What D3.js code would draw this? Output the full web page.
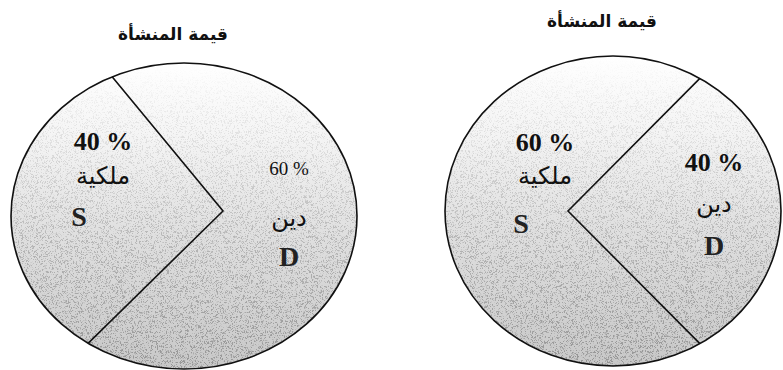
<!DOCTYPE html>
<html><head><meta charset="utf-8">
<script src="https://cdn.jsdelivr.net/npm/d3@7"></script>
<style>html,body{margin:0;padding:0;background:#fff;}svg{display:block;}</style>
</head><body>
<svg id="c" width="783" height="370"></svg>
<script>
// ---- data ----
const chartTitles = ["قيمة المنشأة", "قيمة المنشأة"];
const categoryNames = ["ملكية", "دين"];      // equity, debt
const categoryCodes = ["S", "D"];
const equityShare = [40, 60];                 // % per chart (left, right)
const debtShare   = [60, 40];

// ---- layout (positions / sizes / styles) ----
const layout = [
  { cx: 184, cy: 216, rx: 173, ry: 153, vy: 211, off: 39, tilt: 3, titleX: 173, titleY: 40,
    labels: [ {x: 103, pctY: 150, nameY: 184, codeX: 79, codeY: 226, bold: true},
              {x: 289, pctY: 175, nameY: 226, codeX: 289, codeY: 266, bold: false} ] },
  { cx: 613, cy: 211, rx: 168, ry: 155, vy: 211, off: 45, tilt: 0, titleX: 602, titleY: 27,
    labels: [ {x: 545, pctY: 151, nameY: 184, codeX: 521, codeY: 233, bold: true},
              {x: 714, pctY: 171, nameY: 212, codeX: 714, codeY: 255, bold: true} ] }
];

const svg = d3.select("#c");
const defs = svg.append("defs");
const grad = defs.append("linearGradient").attr("id","g").attr("x1",0).attr("y1",0).attr("x2",0).attr("y2",1);
[[0,"#ffffff"],[0.25,"#f4f4f4"],[0.55,"#e0e0e0"],[1,"#c8c8c8"]].forEach(s=>
  grad.append("stop").attr("offset",s[0]).attr("stop-color",s[1]));
const mg = defs.append("linearGradient").attr("id","mg").attr("x1",0).attr("y1",0).attr("x2",0).attr("y2",1);
[[0,"#000"],[0.2,"#333"],[0.6,"#888"],[1,"#bbb"]].forEach(s=>
  mg.append("stop").attr("offset",s[0]).attr("stop-color",s[1]));
const f = defs.append("filter").attr("id","noise").attr("x",0).attr("y",0).attr("width","100%").attr("height","100%");
f.append("feTurbulence").attr("type","fractalNoise").attr("baseFrequency",1.8).attr("numOctaves",1).attr("seed",7);
f.append("feColorMatrix").attr("type","matrix")
  .attr("values","0 0 0 0 0  0 0 0 0 0  0 0 0 0 0  0 0 0 9 -4.8");

const pie = d3.pie().sort(null);

function rayHit(L, ox, ang) {
  const dx = Math.cos(ang), dy = Math.sin(ang);
  const ey = L.vy - L.cy;
  const a = dx*dx/(L.rx*L.rx) + dy*dy/(L.ry*L.ry);
  const b = 2*ox*dx/(L.rx*L.rx) + 2*ey*dy/(L.ry*L.ry);
  const c = ox*ox/(L.rx*L.rx) + ey*ey/(L.ry*L.ry) - 1;
  const t = (-b + Math.sqrt(b*b - 4*a*c)) / (2*a);
  return [L.cx + ox + t*dx, L.vy + t*dy];
}
function wedge(L, ox, dir, half) {
  const p1 = rayHit(L, ox, dir - half), p2 = rayHit(L, ox, dir + half);
  const par = p => Math.atan2((p[1]-L.cy)/L.ry, (p[0]-L.cx)/L.rx);
  let t1 = par(p1), t2 = par(p2);
  while (t2 < t1) t2 += 2*Math.PI;
  const pts = [[L.cx+ox, L.vy], p1];
  const n = 120;
  for (let i=1;i<n;i++){ const t = t1 + (t2-t1)*i/n; pts.push([L.cx+L.rx*Math.cos(t), L.cy+L.ry*Math.sin(t)]); }
  pts.push(p2);
  return {pts, p1, p2};
}

layout.forEach((L, k) => {
  const values = [equityShare[k], debtShare[k]];
  const arcs = pie(values);
  const frac = arcs.map(a => (a.endAngle - a.startAngle)/(2*Math.PI));
  const wi = frac[0] <= frac[1] ? 0 : 1;
  const tiltR = L.tilt*Math.PI/180;
  const dir = wi === 0 ? Math.PI + tiltR : -tiltR;
  const ox = wi === 0 ? L.off : -L.off;
  const total = Math.PI*L.rx*L.ry;
  let lo = 0.1, hi = 1.5;
  for (let i=0;i<50;i++){
    const m=(lo+hi)/2;
    const A = Math.abs(d3.polygonArea(wedge(L, ox, dir, m).pts));
    if (A/total < frac[wi]) lo = m; else hi = m;
  }
  const W = wedge(L, ox, dir, (lo+hi)/2);
  const g = svg.append("g");
  const cid = "clip"+k, mid = "mask"+k;
  defs.append("clipPath").attr("id",cid).append("ellipse")
    .attr("cx",L.cx).attr("cy",L.cy).attr("rx",L.rx).attr("ry",L.ry);
  defs.append("mask").attr("id",mid).attr("maskUnits","userSpaceOnUse")
    .attr("x",L.cx-L.rx).attr("y",L.cy-L.ry).attr("width",2*L.rx).attr("height",2*L.ry)
    .append("rect").attr("x",L.cx-L.rx).attr("y",L.cy-L.ry).attr("width",2*L.rx).attr("height",2*L.ry)
    .attr("fill","url(#mg)");
  g.append("ellipse").attr("cx",L.cx).attr("cy",L.cy).attr("rx",L.rx).attr("ry",L.ry)
    .attr("fill","url(#g)");
  g.append("g").attr("clip-path",`url(#${cid})`).attr("mask",`url(#${mid})`)
    .append("rect").attr("x",L.cx-L.rx).attr("y",L.cy-L.ry).attr("width",2*L.rx).attr("height",2*L.ry)
    .attr("filter","url(#noise)").attr("opacity",0.35);
  g.append("ellipse").attr("cx",L.cx).attr("cy",L.cy).attr("rx",L.rx).attr("ry",L.ry)
    .attr("fill","none").attr("stroke","#111").attr("stroke-width",1.6);
  g.append("path").attr("d", d3.line()([W.p1, [L.cx+ox, L.vy], W.p2]))
    .attr("fill","none").attr("stroke","#111").attr("stroke-width",1.6);

  g.append("text").attr("x",L.titleX).attr("y",L.titleY).attr("text-anchor","middle")
    .attr("font-family","DejaVu Sans").attr("font-weight","bold").attr("font-size",17)
    .attr("fill","#111").text(chartTitles[k]);

  values.forEach((v, i) => {
    const lb = L.labels[i];
    g.append("text").attr("x",lb.x).attr("y",lb.pctY).attr("text-anchor","middle")
      .attr("font-family","Liberation Serif").attr("font-weight", lb.bold ? "bold" : "normal")
      .attr("font-size", lb.bold ? 26 : 19).attr("fill","#111").text(v + " %");
    g.append("text").attr("x",lb.x).attr("y",lb.nameY).attr("text-anchor","middle")
      .attr("font-family","DejaVu Sans").attr("font-size",24).attr("fill","#111").text(categoryNames[i]);
    g.append("text").attr("x",lb.codeX).attr("y",lb.codeY).attr("text-anchor","middle")
      .attr("font-family","Liberation Serif").attr("font-weight","bold")
      .attr("font-size",28).attr("fill","#222").text(categoryCodes[i]);
  });
});
</script>
</body></html>
